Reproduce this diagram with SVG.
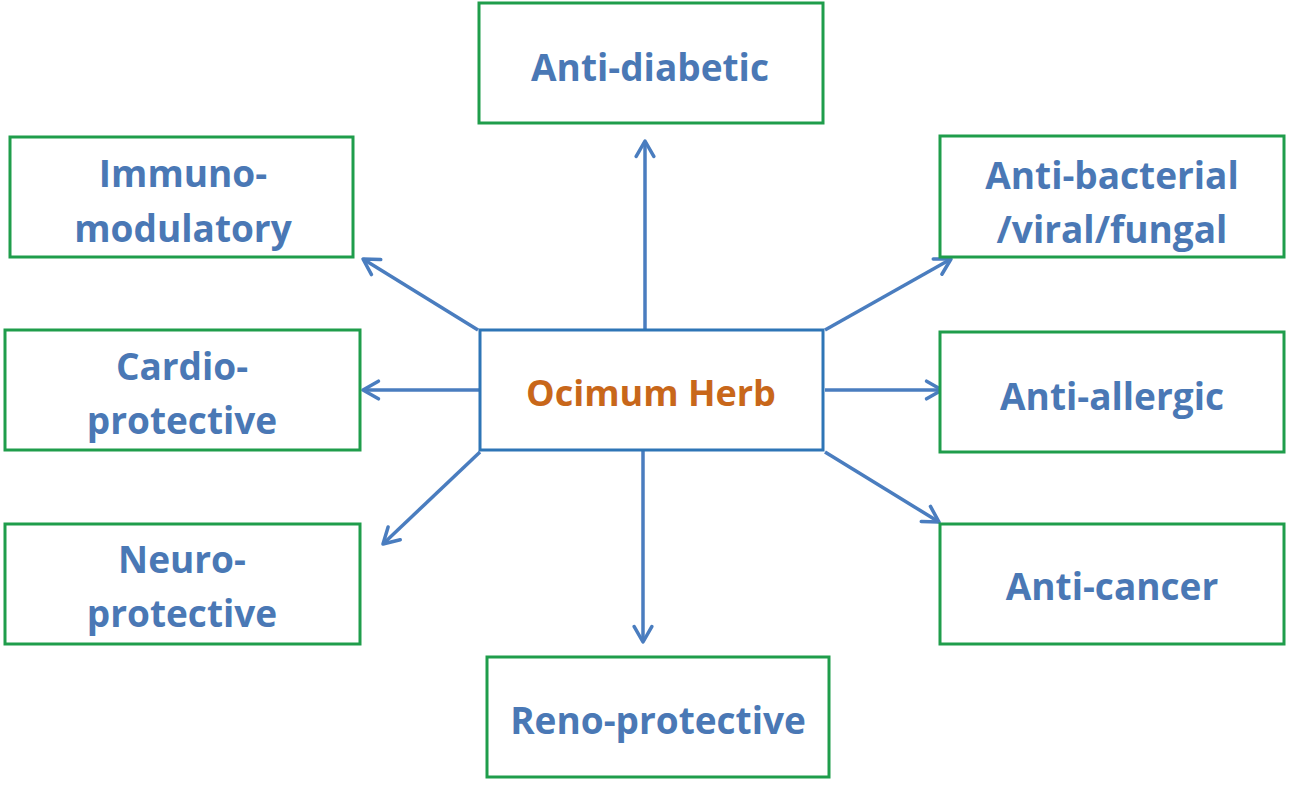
<svg xmlns="http://www.w3.org/2000/svg" width="1292" height="785" viewBox="0 0 1292 785">
<defs>
<style>
.box{fill:#fff;stroke:#1f9d4b;stroke-width:3}
.center{fill:#fff;stroke:#2e75b6;stroke-width:3}
.t{font-family:"Open Sans","Noto Sans",sans-serif;font-weight:700;font-size:37px;fill:#4a78b5;text-anchor:middle;dominant-baseline:central}
.ct{font-family:"Open Sans","Noto Sans",sans-serif;font-weight:700;font-size:36px;fill:#c8671a;text-anchor:middle;dominant-baseline:central}
.c{stroke:#4a7dbf;stroke-width:3.5;fill:none;marker-end:url(#arr)}
</style>
<marker id="arr" viewBox="0 0 20 20" refX="18" refY="10" markerWidth="22" markerHeight="22" markerUnits="userSpaceOnUse" orient="auto">
<path d="M4,2 L18,10 L4,18" fill="none" stroke="#4a7dbf" stroke-width="3.2" stroke-linecap="round" stroke-linejoin="round"/>
</marker>
</defs>
<rect width="1292" height="785" fill="#fff"/>
<g id="connectors">
<line class="c" x1="645" y1="330" x2="645" y2="141"/>
<line class="c" x1="478" y1="330" x2="363" y2="259"/>
<line class="c" x1="480" y1="390" x2="363" y2="390"/>
<line class="c" x1="480" y1="452" x2="383" y2="544"/>
<line class="c" x1="643" y1="450" x2="643" y2="642"/>
<line class="c" x1="825" y1="330" x2="951" y2="259"/>
<line class="c" x1="825" y1="390" x2="942" y2="390"/>
<line class="c" x1="825" y1="452" x2="939" y2="522"/>
</g>
<g id="center"><rect class="center" x="480" y="330" width="343" height="120"/><text class="ct" x="651" y="392">Ocimum Herb</text></g>
<g id="anti-diabetic"><rect class="box" x="479" y="3" width="344" height="120"/><text class="t" x="650" y="66">Anti-diabetic</text></g>
<g id="immuno"><rect class="box" x="10" y="137" width="343" height="120"/><text class="t" x="183" y="172">Immuno-</text><text class="t" x="183" y="227">modulatory</text></g>
<g id="cardio"><rect class="box" x="5" y="330" width="355" height="120"/><text class="t" x="182" y="365">Cardio-</text><text class="t" x="182" y="419">protective</text></g>
<g id="neuro"><rect class="box" x="5" y="524" width="355" height="120"/><text class="t" x="182" y="558">Neuro-</text><text class="t" x="182" y="612">protective</text></g>
<g id="reno"><rect class="box" x="487" y="657" width="342" height="120"/><text class="t" x="658" y="719">Reno-protective</text></g>
<g id="anti-bacterial"><rect class="box" x="940" y="136" width="344" height="121"/><text class="t" x="1112" y="174">Anti-bacterial</text><text class="t" x="1112" y="228">/viral/fungal</text></g>
<g id="anti-allergic"><rect class="box" x="940" y="332" width="344" height="120"/><text class="t" x="1112" y="395">Anti-allergic</text></g>
<g id="anti-cancer"><rect class="box" x="940" y="524" width="344" height="120"/><text class="t" x="1112" y="585">Anti-cancer</text></g>
</svg>
